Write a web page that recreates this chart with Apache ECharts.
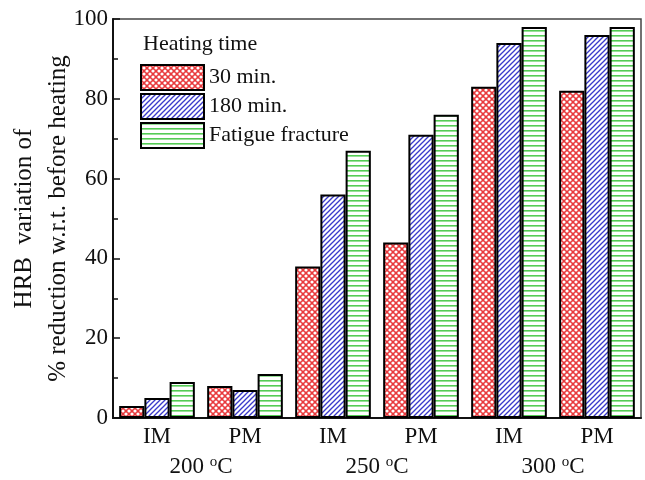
<!DOCTYPE html>
<html><head><meta charset="utf-8">
<script src="https://cdn.jsdelivr.net/npm/echarts@6/dist/echarts.min.js"></script>
<style>html,body{margin:0;padding:0;background:#fff}#c{width:645px;height:480px}</style>
</head><body><div id="c"></div>
<script>
var categories = ['IM','PM','IM','PM','IM','PM'];
var temperatures = ['200 {s|o}C','250 {s|o}C','300 {s|o}C'];
var seriesNames = ['30 min.','180 min.','Fatigue fracture'];
var min30 = [3, 8, 38, 44, 83, 82];
var min180 = [5, 7, 56, 71, 94, 96];
var fatigue = [9, 11, 67, 76, 98, 98];

function tile(size, draw){
  var c=document.createElement('canvas'); c.width=size; c.height=size;
  var g=c.getContext('2d'); draw(g,size); return c;
}
var redPat = tile(6,function(g,s){
  g.fillStyle='#e8393c'; g.fillRect(0,0,s,s);
  g.fillStyle='#fff';
  [[0,0],[s,0],[0,s],[s,s],[s/2,s/2]].forEach(function(p){g.beginPath();g.arc(p[0],p[1],1.6,0,Math.PI*2);g.fill();});
});
var bluePat = tile(5,function(g,s){
  g.fillStyle='#fff'; g.fillRect(0,0,s,s);
  g.strokeStyle='#3a3acb'; g.lineWidth=1.3;
  [[0,s,s,0],[-s,s,s,-s],[0,2*s,2*s,0]].forEach(function(l){g.beginPath();g.moveTo(l[0],l[1]);g.lineTo(l[2],l[3]);g.stroke();});
});
var greenPat = tile(5,function(g,s){
  g.fillStyle='#fff'; g.fillRect(0,0,s,s);
  g.fillStyle='#55cc55'; g.fillRect(0,0,s,1.6);
});
var pats=[redPat,bluePat,greenPat];
var datas=[min30,min180,fatigue];
var font='Liberation Serif';
var chart=echarts.init(document.getElementById('c'));
chart.setOption({
  animation:false,
  title:{text:'Heating time',left:143,top:33,padding:0,textStyle:{fontFamily:font,fontSize:22,fontWeight:'normal',color:'#111'}},
  legend:{orient:'vertical',left:140,top:64,padding:0,itemWidth:63,itemHeight:25,itemGap:2,icon:'rect',
    itemStyle:{borderColor:'#000',borderWidth:2},
    textStyle:{fontFamily:font,fontSize:22,color:'#111',padding:[0,0,0,0]},data:seriesNames},
  grid:{left:113,right:4,top:19,bottom:62,outerBoundsMode:'none',containLabel:false,show:true,borderColor:'#444',borderWidth:1.5,backgroundColor:'transparent'},
  xAxis:[{type:'category',data:categories,axisLine:{lineStyle:{color:'#111',width:2}},axisTick:{show:false},
    axisLabel:{fontFamily:font,fontSize:23,color:'#111',margin:7}},
    {type:'category',data:temperatures,position:'bottom',offset:30,axisLine:{show:false},axisTick:{show:false},
    axisLabel:{fontFamily:font,fontSize:23,color:'#111',margin:7,rich:{s:{fontFamily:font,fontSize:15,verticalAlign:'top',padding:[0,0,9,0],color:'#111'}}}}],
  yAxis:{type:'value',min:0,max:100,interval:20,
    name:'HRB  variation of\n% reduction w.r.t. before heating',nameLocation:'middle',nameGap:38,nameRotate:90,nameMoveOverlap:false,
    nameTextStyle:{fontFamily:font,fontSize:25,color:'#111',lineHeight:34},
    axisLine:{show:true,lineStyle:{color:'#111',width:2}},
    axisTick:{show:true,inside:true,length:7,lineStyle:{color:'#111',width:1.5}},
    minorTick:{show:true,splitNumber:2,length:5,lineStyle:{color:'#111',width:1.5}},
    splitLine:{show:false},
    axisLabel:{fontFamily:font,fontSize:23,color:'#111',margin:5}},
  series:seriesNames.map(function(n,i){return {name:n,type:'bar',xAxisIndex:0,data:datas[i],
    barGap:'0%',barCategoryGap:'14%',
    itemStyle:{color:{image:pats[i],repeat:'repeat'},borderColor:'#000',borderWidth:2}};})
});
</script></body></html>
